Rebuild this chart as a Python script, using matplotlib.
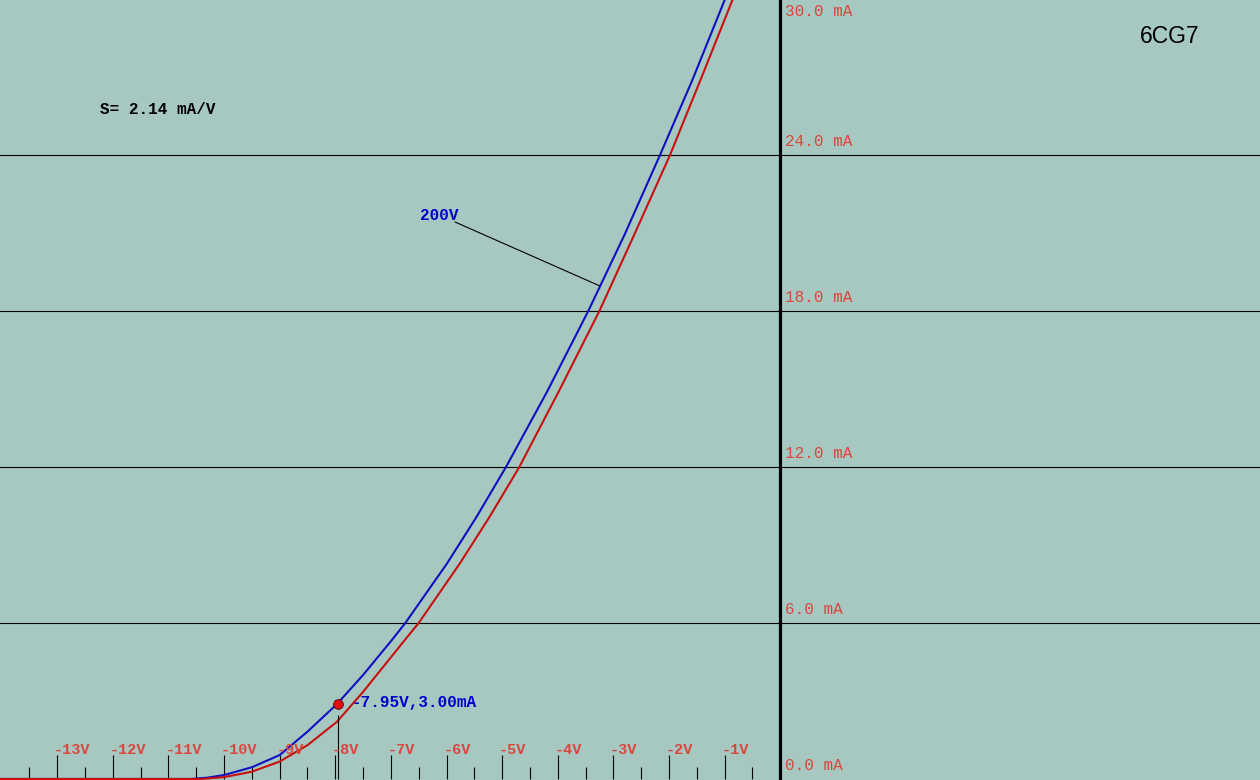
import matplotlib
matplotlib.use("Agg")
import matplotlib.pyplot as plt

# Anodenstrom-Kennlinie 6CG7 (Ia ueber Ug)
ug_blau = [-14.03, -10.6, -10.3, -10.0, -9.5, -9.0, -8.5, -7.97, -7.5, -6.98, -6.74,
           -5.99, -5.46, -4.93, -4.19, -3.45, -2.805, -2.16, -1.575, -0.99, -0.9]
ia_blau = [0.0, 0.0, 0.05, 0.15, 0.45, 0.92, 1.82, 2.88, 4.0, 5.35, 6.0,
           8.29, 10.08, 12.0, 14.9, 18.0, 20.9, 24.0, 26.9, 30.0, 30.5]

ug_rot = [-14.03, -10.4, -10.0, -9.5, -9.0, -8.5, -7.97, -7.5, -6.71, -6.5,
          -5.76, -5.22, -4.69, -3.97, -3.25, -2.62, -1.98, -1.42, -0.85, -0.77]
ia_rot = [0.0, 0.0, 0.07, 0.28, 0.67, 1.3, 2.2, 3.35, 5.45, 6.0,
          8.29, 10.1, 12.0, 14.95, 18.0, 20.95, 24.0, 26.95, 30.0, 30.5]

ug_ticks = [-13, -12, -11, -10, -9, -8, -7, -6, -5, -4, -3, -2, -1]
ug_minor = [-13.5, -12.5, -11.5, -10.5, -9.5, -8.5, -7.5, -6.5, -5.5, -4.5, -3.5, -2.5, -1.5, -0.5]
ia_gitter = [0, 6, 12, 18, 24, 30]

punkt_ug = -7.95
punkt_ia = 2.9

hg = '#a6c8c1'
rot_text = '#d9473f'
blau_text = '#0000cc'
mono = 'Liberation Mono'

fig = plt.figure(figsize=(12.6, 7.8), dpi=100, facecolor=hg)
ax = fig.add_axes([0, 0, 1, 1])
ax.set_facecolor(hg)
ax.set_xlim(-14.03, 8.63)
ax.set_ylim(-0.04, 29.96)
for s in ax.spines.values():
    s.set_visible(False)
ax.set_xticks([])
ax.set_yticks([])

# Gitterlinien
for v in ia_gitter[1:]:
    ax.axhline(v, color='black', lw=0.8)
ax.axvline(0, color='black', lw=2.3)

# Skala unten
ax.vlines(ug_ticks, 0, 0.92, color='black', lw=0.8)
ax.vlines(ug_minor, 0, 0.46, color='black', lw=0.8)
for u in ug_ticks:
    ax.text(u - 0.06, 1.12, f'{u}V', color=rot_text, fontsize=11, family=mono,
            fontweight='bold', ha='left', va='center')

# Skala rechts
for v in ia_gitter:
    y = v - 0.5 if v == ia_gitter[-1] else v + 0.52
    ax.text(0.09, y, f'{v:.1f} mA', color=rot_text, fontsize=11.5, family=mono,
            ha='left', va='center')

# Kennlinien
ax.plot(ug_blau, ia_blau, color='#1010c0', lw=1.5)
ax.plot(ug_rot, ia_rot, color='#c81010', lw=1.5)

# Arbeitspunkt
ax.vlines(punkt_ug, 0, punkt_ia - 0.45, color='black', lw=0.8)
ax.plot([punkt_ug], [punkt_ia], 'o', color='#e01010', mec='#600000', mew=0.6, ms=7)
ax.text(-7.70, 2.96, f'{punkt_ug:.2f}V,{3.0:.2f}mA', color=blau_text, fontsize=11.5,
        family=mono, fontweight='bold', ha='left', va='center')

# Beschriftung
ax.text(-6.47, 21.69, '200V', color=blau_text, fontsize=11.5, family=mono,
        fontweight='bold', ha='left', va='center')
ax.plot([-5.845, -3.25], [21.42, 18.97], color='black', lw=0.8)
ax.text(-12.23, 25.73, 'S= 2.14 mA/V', color='black', fontsize=11.5, family=mono,
        fontweight='bold', ha='left', va='center')
ax.text(7.0, 28.56, '6CG7', color='black', fontsize=16.5, family='Liberation Sans',
        ha='center', va='center')

fig.savefig('out.png', dpi=100, facecolor=hg)
